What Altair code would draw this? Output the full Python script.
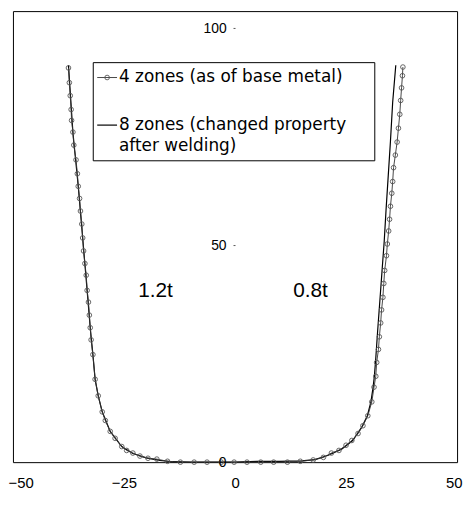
import altair as alt
import pandas as pd

# 4 zones (as of base metal) - points with markers
x4 = [-37.5, -37.3, -37.1, -36.9, -36.8, -36.5, -36.3, -35.8, -35.5, -35.3, -35.0, -34.8,
      -34.5, -34.3, -34.1, -33.8, -33.5, -33.3, -33.0, -32.8, -32.6, -32.4, -32.0, -31.5,
      -30.8, -29.9, -29.2, -28.1, -27.0, -25.5, -24.4, -23.0, -21.4, -19.6, -17.6, -15.2,
      -12.3, -9.2, -6.3, -3.1, -0.2, 2.7, 5.8, 8.7, 11.8, 14.7,
      17.6, 19.9, 21.7, 23.4, 25.0, 26.3, 27.7, 28.8, 29.9, 30.8, 31.3, 31.7, 31.9, 32.3,
      32.5, 32.8, 33.0, 33.3, 33.5, 33.7, 34.1, 34.3, 34.6, 34.8, 35.0, 35.3, 35.5, 35.7,
      36.1, 36.5, 36.8, 37.1, 37.3, 37.5, 37.7, 37.8]
y4 = [90.9, 87.5, 84.5, 81.3, 78.8, 76.1, 73.1, 69.7, 66.5, 63.6, 60.8, 57.9,
      54.9, 51.7, 48.7, 45.8, 43.1, 39.6, 36.9, 33.9, 31.0, 28.2, 24.8, 19.1,
      15.3, 11.6, 9.6, 7.1, 5.5, 3.6, 2.7, 2.1, 1.4, 0.9, 0.7, 0.2,
      0.0, 0.0, 0.0, 0.0, 0.0, 0.0, 0.0, 0.0, 0.0, 0.2,
      0.5, 1.1, 2.1, 2.7, 3.9, 5.0, 6.6, 8.4, 10.7, 13.9, 17.3, 19.8, 23.0, 26.0,
      28.9, 32.1, 35.1, 38.0, 41.2, 44.2, 47.6, 50.3, 53.3, 56.0, 59.0, 62.0, 64.7, 67.9,
      70.8, 73.8, 77.0, 80.2, 83.4, 86.3, 89.1, 91.1]

# 8 zones (changed property after welding) - solid line
x8 = [-37.5, -36.5, -35.3, -34.3, -33.3, -32.6, -32.0, -31.5, -30.8, -29.9, -28.1, -25.5,
      -23.0, -20.0, -17.0, -14.0, -10.0, 0.0, 5.0, 10.0, 15.0, 18.0, 21.0, 24.0, 26.5,
      28.5, 29.8, 30.6, 31.1, 31.4, 31.7, 32.1, 32.6, 33.1, 33.6, 34.0, 34.5, 35.0,
      35.5, 36.2]
y8 = [91.5, 76.0, 63.6, 51.7, 39.6, 31.0, 24.8, 19.1, 15.3, 11.6, 7.1, 3.6,
      2.0, 1.0, 0.4, 0.1, 0.0, 0.0, 0.2, 0.2, 0.3, 0.6, 1.6, 3.0, 5.0,
      8.0, 10.7, 13.9, 17.3, 20.0, 24.0, 30.0, 37.0, 44.0, 51.0, 58.0, 66.0, 74.0,
      83.0, 91.5]

legend_lines = ["4 zones (as of base metal)", "8 zones (changed property", "after welding)"]
ann_labels = ["1.2t", "0.8t"]
ann_x = [-17.9, 17.0]
ann_y = [39.5, 39.5]
x_ticks = [-50, -25, 0, 25, 50]
y_ticks = [0, 50, 100]

df4 = pd.DataFrame({"x": x4, "y": y4, "order": list(range(len(x4)))})
df8 = pd.DataFrame({"x": x8, "y": y8, "order": list(range(len(x8)))})
dfa = pd.DataFrame({"x": ann_x, "y": ann_y, "label": ann_labels})
one = pd.DataFrame({"k": [0]})

xs = alt.Scale(domain=[-50, 50], nice=False, zero=False)
ys = alt.Scale(domain=[0, 104], nice=False, zero=False)

xax = alt.Axis(values=x_ticks, title=None, grid=False, domain=False, ticks=False,
               labelFontSize=15, labelFont="Liberation Sans", labelColor="black",
               labelPadding=14, labelFlush=True, labelFlushOffset=5)
yax = alt.Axis(values=y_ticks, title=None, grid=False, domain=False, tickSize=2,
               tickColor="#555", offset=-224, labelPadding=7, labelFontSize=14,
               labelFont="Liberation Sans", labelColor="black", labelFlush=False,
               zindex=1)

line8 = alt.Chart(df8).mark_line(color="black", strokeWidth=1.2).encode(
    x=alt.X("x:Q", scale=xs, axis=xax),
    y=alt.Y("y:Q", scale=ys, axis=yax),
    order="order:Q",
)
line4 = alt.Chart(df4).mark_line(color="#333333", strokeWidth=0.9).encode(
    x=alt.X("x:Q", scale=xs), y=alt.Y("y:Q", scale=ys), order="order:Q"
)
pts4 = alt.Chart(df4).mark_point(shape="circle", filled=False, size=22,
                                 color="#555555", strokeWidth=0.9, opacity=1).encode(
    x=alt.X("x:Q", scale=xs), y=alt.Y("y:Q", scale=ys)
)
ann = alt.Chart(dfa).mark_text(fontSize=21, font="Liberation Sans", color="black",
                               align="center", baseline="middle").encode(
    x=alt.X("x:Q", scale=xs), y=alt.Y("y:Q", scale=ys), text="label:N"
)

# legend box (drawn manually)
box = alt.Chart(one).mark_rect(fill="white", stroke="black", strokeWidth=1).encode(
    x=alt.value(81), x2=alt.value(365), y=alt.value(52), y2=alt.value(151)
)
sym1 = alt.Chart(one).mark_rule(color="#333333", strokeWidth=0.9).encode(
    x=alt.value(85), x2=alt.value(105), y=alt.value(67)
)
sym1p = alt.Chart(one).mark_point(shape="circle", filled=False, size=22,
                                  color="#555555", strokeWidth=0.9, opacity=1).encode(
    x=alt.value(95), y=alt.value(67)
)
sym2 = alt.Chart(one).mark_rule(color="black", strokeWidth=1.2).encode(
    x=alt.value(85), x2=alt.value(105), y=alt.value(115)
)
txt_y = [67, 115, 136]
texts = [
    alt.Chart(one).mark_text(fontSize=17, font="DejaVu Sans", color="black",
                             align="left", baseline="middle").encode(
        x=alt.value(107), y=alt.value(ty), text=alt.value(t))
    for t, ty in zip(legend_lines, txt_y)
]

chart = alt.layer(line8, line4, pts4, ann, box, sym1, sym1p, sym2, *texts).properties(
    width=448, height=455,
    padding={"left": 5, "top": 1, "right": 8, "bottom": 30},
    autosize=alt.AutoSizeParams(type="none"),
    background="white",
).configure_view(stroke="black", strokeWidth=1)

chart.save("out.html", embed_options={"renderer": "svg", "actions": False})
